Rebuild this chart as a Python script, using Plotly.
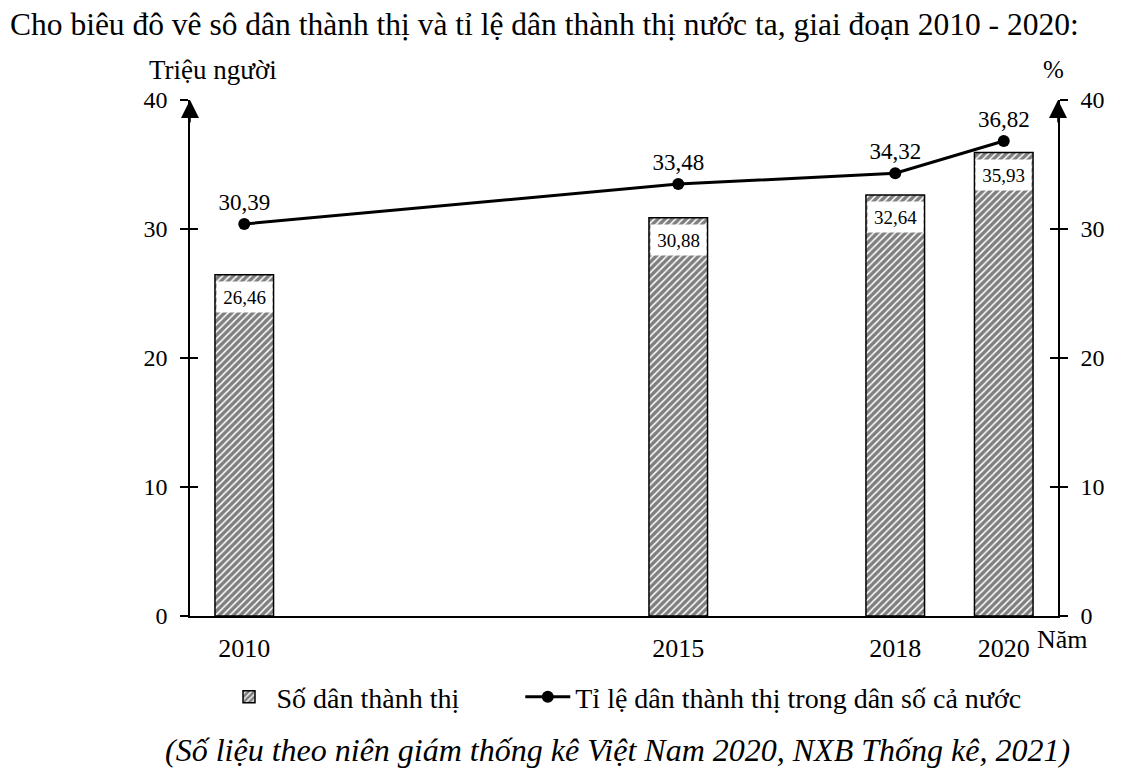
import plotly.graph_objects as go

# số liệu
years = ["2010", "2015", "2018", "2020"]
urban_pop = [26.46, 30.88, 32.64, 35.93]     # triệu người
urban_rate = [30.39, 33.48, 34.32, 36.82]    # %
y_ticks = [0, 10, 20, 30, 40]

# trục x chia 8 ô đều nhau, các ô trống giữ khoảng cách giữa các năm như hình gốc
x_slots = ["2010", "_1", "_2", "_3", "2015", "_4", "2018", "2020"]

FONT = "Liberation Serif, Times New Roman, serif"


def vn(v):
    return f"{v:.2f}".replace(".", ",")


def txt(size):
    return dict(size=size, family=FONT, color="black")


fig = go.Figure()

fig.add_trace(go.Bar(
    x=years, y=urban_pop, name="Số dân thành thị" + "\u00a0" * 8, width=0.54,
    marker=dict(color="white", line=dict(color="black", width=1.5),
                pattern=dict(shape="/", fgcolor="black", bgcolor="white",
                             size=5, solidity=0.7)),
    hoverinfo="x+y",
))

fig.add_trace(go.Scatter(
    x=years, y=urban_rate, yaxis="y2", name="Tỉ lệ dân thành thị trong dân số cả nước",
    mode="lines+markers+text", text=[vn(v) for v in urban_rate],
    textposition="top center", textfont=txt(23),
    line=dict(color="black", width=3), marker=dict(size=12, color="black"),
    cliponaxis=False,
))

# trục phụ chỉ để vẽ vạch chia phía trong (vạch cắt ngang trục)
for ax_name in ["y3", "y4"]:
    fig.add_trace(go.Scatter(x=[], y=[], yaxis=ax_name, showlegend=False, hoverinfo="skip"))

# nhãn giá trị trong ô trắng trên đầu cột (trục category -> dùng chỉ số ô)
annotations = []
for yr, v in zip(years, urban_pop):
    annotations.append(dict(x=x_slots.index(yr), y=v, xref="x", yref="y", text=vn(v),
                            showarrow=False, xanchor="center", yanchor="middle",
                            yshift=-22, bgcolor="white", width=53, height=28,
                            font=txt(19)))

# mũi tên đầu trục tung
for xp in [0, 1]:
    annotations.append(dict(x=xp, y=40, xref="paper", yref="y", text="", showarrow=True,
                            ax=0, ay=24, arrowhead=2, arrowsize=2.4, arrowwidth=1.5,
                            arrowcolor="black", standoff=0))

annotations += [
    dict(x=0.0265, y=1.058, xref="paper", yref="paper", text="Triệu người", showarrow=False,
         xanchor="center", yanchor="middle", font=txt(27)),
    dict(x=0.995, y=1.06, xref="paper", yref="paper", text="%", showarrow=False,
         xanchor="center", yanchor="middle", font=txt(25)),
    dict(x=0.9735, y=-0.045, xref="paper", yref="paper", text="Năm", showarrow=False,
         xanchor="left", yanchor="middle", font=txt(26)),
    dict(x=-0.2097, y=1.146, xref="paper", yref="paper", xanchor="left", yanchor="middle",
         text="Cho biêu đô vê sô dân thành thị và tỉ lệ dân thành thị nước ta, giai đoạn 2010 - 2020:",
         showarrow=False, font=txt(31.5)),
    dict(x=0.493, y=-0.26, xref="paper", yref="paper", xanchor="center", yanchor="middle",
         text="<i>(Số liệu theo niên giám thống kê Việt Nam 2020, NXB Thống kê, 2021)</i>",
         showarrow=False, font=txt(32)),
]

axis_common = dict(range=[0, 40], showgrid=False, zeroline=False, color="black",
                   tickfont=txt(24))

fig.update_layout(
    width=1124, height=780,
    # trang html có lề 8px -> bù lại để khung vẽ nằm đúng chỗ
    margin=dict(l=182, r=74, t=92, b=172),
    paper_bgcolor="white", plot_bgcolor="white",
    font=dict(family=FONT, color="black"),
    xaxis=dict(type="category", categoryorder="array", categoryarray=x_slots,
               range=[-0.5, 7.5], tickvals=years, ticktext=years,
               showline=True, linecolor="black", linewidth=1.5, ticks="",
               ticklabelstandoff=8, tickfont=txt(26)),
    yaxis=dict(**axis_common, tickvals=y_ticks, ticks="outside", ticklen=8, tickwidth=1.5,
               showline=True, linecolor="black", linewidth=1.5, ticklabelstandoff=8),
    yaxis2=dict(**axis_common, tickvals=y_ticks, ticks="outside", ticklen=8, tickwidth=1.5,
                showline=True, linecolor="black", linewidth=1.5, overlaying="y", side="right",
                ticklabelstandoff=8),
    yaxis3=dict(**axis_common, tickvals=y_ticks[1:], ticks="inside", ticklen=8, tickwidth=1.5,
                showticklabels=False, showline=False, overlaying="y", side="left", anchor="x"),
    yaxis4=dict(**axis_common, tickvals=y_ticks[1:], ticks="inside", ticklen=8, tickwidth=1.5,
                showticklabels=False, showline=False, overlaying="y", side="right", anchor="x"),
    legend=dict(orientation="h", x=0.5, xanchor="center", y=-0.157, yanchor="middle",
                font=txt(28), bgcolor="rgba(0,0,0,0)", itemwidth=45),
    annotations=annotations,
    showlegend=True,
)

fig.write_html("out.html")
